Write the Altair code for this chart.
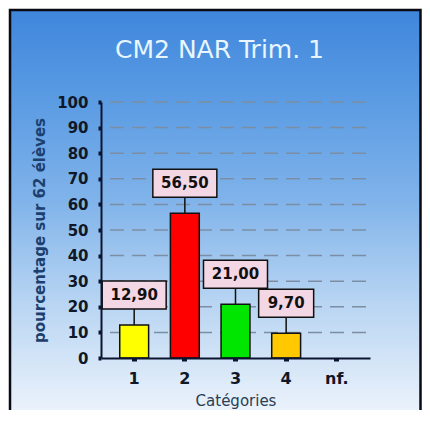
import altair as alt
import pandas as pd

# ---- data ----
categories = ["1", "2", "3", "4", "nf."]
values = [12.9, 56.5, 21.0, 9.7, 0.0]
bar_colors = ["#ffff00", "#ff0000", "#00e600", "#ffc800", "#999999"]
y_ticks = [0, 10, 20, 30, 40, 50, 60, 70, 80, 90, 100]
grid_values = [10, 20, 30, 40, 50, 60, 70, 80, 90, 100]

title_text = "CM2 NAR Trim. 1"
y_title = "pourcentage sur 62 élèves"
x_title = "Catégories"

df = pd.DataFrame({"cat": categories, "value": values})
df["label"] = [f"{v:.2f}".replace(".", ",") for v in values]
df["nchar"] = df["label"].str.len()

FONT = "DejaVu Sans"
AXIS_COLOR = "#0b1530"

# label box shapes (path units = pixels with size=4), box + connector line
path5 = "M-32,-44H32V-16H0V0V-16H-32Z"
path4 = "M-27.5,-44H27.5V-16H0V0V-16H-27.5Z"

x_axis = alt.Axis(
    labelFont=FONT, labelFontSize=16, labelFontWeight="bold", labelColor="#101828",
    labelAngle=0, labelPadding=9,
    domainColor=AXIS_COLOR, domainWidth=2,
    tickColor=AXIS_COLOR, tickSize=3, tickWidth=5,
    titleFont=FONT, titleFontSize=15, titleFontWeight="normal", titleColor="#2b3d55",
    titlePadding=7, grid=False, zindex=1,
)
y_axis = alt.Axis(
    values=y_ticks,
    labelFont=FONT, labelFontSize=15, labelFontWeight="bold", labelColor="#101828",
    labelPadding=10,
    domainColor=AXIS_COLOR, domainWidth=2,
    tickColor=AXIS_COLOR, tickSize=3, tickWidth=4,
    titleFont=FONT, titleFontSize=15, titleFontWeight="bold", titleColor="#1d3f6e",
    titlePadding=9, grid=False, zindex=1,
)

x_scale = alt.Scale(domain=categories, paddingInner=0.43, paddingOuter=0.37)
y_scale = alt.Scale(domain=[0, 100], nice=False)

x_enc = alt.X("cat:N", sort=categories, scale=x_scale, axis=x_axis, title=x_title)
y_enc = alt.Y("value:Q", scale=y_scale, axis=y_axis, title=y_title)

gradient = alt.Gradient(
    gradient="linear", x1=0, y1=0, x2=0, y2=1,
    stops=[
        alt.GradientStop(offset=0.0, color="#3f86dc"),
        alt.GradientStop(offset=0.21, color="#5a9be3"),
        alt.GradientStop(offset=0.45, color="#80b3ea"),
        alt.GradientStop(offset=0.68, color="#b5d3f2"),
        alt.GradientStop(offset=0.87, color="#dbe9f8"),
        alt.GradientStop(offset=1.0, color="#f4f8fd"),
    ],
)

background = alt.Chart(alt.Data(values=[{}])).mark_rect(
    fill=gradient, stroke="#0a0a14", strokeWidth=2.5
).encode(
    x=alt.value(-91), x2=alt.value(319.5), y=alt.value(-92), y2=alt.value(330)
)

title = alt.Chart(alt.Data(values=[{}])).mark_text(
    font=FONT, fontSize=25, fontWeight="normal", color="#e8f6ff",
    align="center", baseline="alphabetic",
).encode(x=alt.value(118.5), y=alt.value(-44), text=alt.value(title_text))

grid = alt.Chart(pd.DataFrame({"value": grid_values})).mark_rule(
    color="#7c8ea3", strokeWidth=1.5, strokeDash=[14, 8]
).encode(
    y=y_enc, x=alt.value(9), x2=alt.value(268)
)

base = alt.Chart(df).transform_filter("datum.value > 0")

bars = base.mark_bar(stroke="#111111", strokeWidth=1.5).encode(
    x=x_enc,
    y=y_enc,
    color=alt.Color("cat:N", scale=alt.Scale(domain=categories, range=bar_colors), legend=None),
)

boxes = base.mark_point(
    filled=True, fill="#f4d7e4", stroke="#111111", strokeWidth=1.5, opacity=1, size=4
).encode(
    x=x_enc,
    y=y_enc,
    shape=alt.Shape("nchar:O", scale=alt.Scale(domain=[4, 5], range=[path4, path5]), legend=None),
)

texts = base.mark_text(
    dy=-30, font=FONT, fontSize=15, fontWeight="bold", color="#111111", baseline="middle"
).encode(x=x_enc, y=y_enc, text="label:N")

chart = alt.layer(background, title, grid, bars, boxes, texts).properties(
    width=269,
    height=256,
    padding={"left": 93, "top": 94, "right": 52, "bottom": 52},
    autosize=alt.AutoSizeParams(type="none"),
    background="white",
).configure_view(stroke=None)

chart.save("out.html", embed_options={"renderer": "svg", "actions": False})
